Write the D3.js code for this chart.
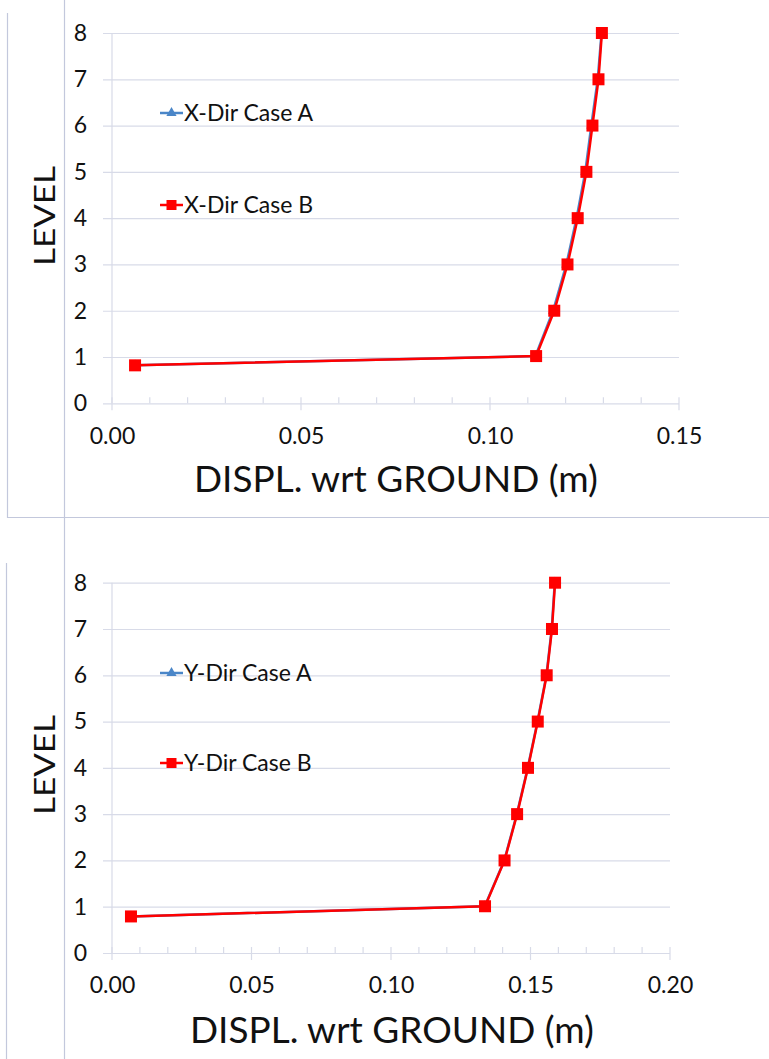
<!DOCTYPE html>
<html>
<head>
<meta charset="utf-8">
<script src="https://cdn.jsdelivr.net/npm/d3@7"></script>
<style>
	body { margin: 0; background: #fff; }
	text { font-family: Lato, "Open Sans", sans-serif; fill: #111; }
</style>
</head>
<body>
<script>
// level axis and displacement ticks
var levelTicks = [0, 1, 2, 3, 4, 5, 6, 7, 8];
var xDirTicks = [0, 0.05, 0.10, 0.15];
var yDirTicks = [0, 0.05, 0.10, 0.15, 0.20];

// X direction
var xDirLevels = [0.82, 1.02, 2, 3, 4, 5, 6, 7, 8];
var xDirCaseA = [0.0061, 0.1120, 0.1167, 0.1202, 0.1229, 0.1252, 0.1268, 0.1285, 0.1295];
var xDirCaseB = [0.0061, 0.1122, 0.1170, 0.1205, 0.1232, 0.1255, 0.1271, 0.1287, 0.1296];

// Y direction
var yDirLevels = [0.79, 1.01, 2, 3, 4, 5, 6, 7, 8];
var yDirCaseA = [0.0068, 0.1336, 0.1406, 0.1451, 0.1490, 0.1525, 0.1557, 0.1576, 0.1587];
var yDirCaseB = [0.0068, 0.1337, 0.1407, 0.1452, 0.1491, 0.1526, 0.1558, 0.1577, 0.1588];

var seriesNames = ["Case A", "Case B"];

var colors = {blue: "#4a86c8", red: "#ff0000", grid: "#d8dbe8", frame: "#c3c8dc"};

var svg = d3.select("body").append("svg")
	.attr("width", 769)
	.attr("height", 1059);

// scanned page frame lines
var frame = svg.append("g")
	.attr("fill", "none")
	.attr("stroke", colors.frame)
	.attr("stroke-width", 1.2);
frame.append("path").attr("d", "M7.5,13V517.5H769");
frame.append("path").attr("d", "M64.5,0V1059");
frame.append("path").attr("d", "M6.5,563V1059");

var drawProfile = function(p){
	var x = d3.scaleLinear().domain([0, p.xMax]).range([112, p.right]);
	var y = d3.scaleLinear().domain([0, 8]).range(p.yRange);
	var g = svg.append("g");

	// horizontal gridlines + level labels
	var yAxis = g.append("g")
		.attr("transform", "translate(103,0)")
		.call(d3.axisLeft(y).tickValues(levelTicks).tickSize(-(p.right - 103)).tickPadding(16));
	yAxis.select(".domain").remove();
	yAxis.selectAll("line").attr("stroke", colors.grid).attr("stroke-width", 1.2);
	yAxis.selectAll("text").attr("font-size", 23).attr("fill", "#111").style("font-family", "Lato, sans-serif");

	g.append("line")
		.attr("x1", x(0)).attr("x2", x(0))
		.attr("y1", y(0)).attr("y2", y(8))
		.attr("stroke", colors.grid).attr("stroke-width", 1.2);

	// x axis with minor ticks
	var xAxis = g.append("g")
		.attr("transform", "translate(0," + y(0) + ")")
		.call(d3.axisBottom(x).tickValues(p.ticks).tickSize(0).tickPadding(24).tickFormat(d3.format(".2f")));
	xAxis.select(".domain").remove();
	xAxis.selectAll("text").attr("font-size", 23).attr("fill", "#111").style("font-family", "Lato, sans-serif");

	g.append("g").selectAll("line")
		.data(x.ticks(p.xMax / 0.01))
		.enter()
		.append("line")
		.attr("x1", function(d){return x(d)})
		.attr("x2", function(d){return x(d)})
		.attr("y1", y(0) - 6)
		.attr("y2", function(d){return p.ticks.some(function(t){return Math.abs(t - d) < 1e-9}) ? y(0) + 7 : y(0)})
		.attr("stroke", colors.grid)
		.attr("stroke-width", 1.2);

	// series
	var line = d3.line()
		.x(function(d){return x(d[0])})
		.y(function(d){return y(d[1])});

	var ptsA = d3.zip(p.caseA, p.levels);
	var ptsB = d3.zip(p.caseB, p.levels);

	g.append("path")
		.datum(ptsA)
		.attr("d", line)
		.attr("fill", "none")
		.attr("stroke", colors.blue)
		.attr("stroke-width", 2.5);
	g.append("g").selectAll("path")
		.data(ptsA)
		.enter()
		.append("path")
		.attr("d", d3.symbol().type(d3.symbolTriangle).size(45))
		.attr("transform", function(d){return "translate(" + x(d[0]) + "," + y(d[1]) + ")"})
		.attr("fill", colors.blue);

	g.append("path")
		.datum(ptsB)
		.attr("d", line)
		.attr("fill", "none")
		.attr("stroke", colors.red)
		.attr("stroke-width", 2.5);
	g.append("g").selectAll("rect")
		.data(ptsB)
		.enter()
		.append("rect")
		.attr("x", function(d){return x(d[0]) - 6})
		.attr("y", function(d){return y(d[1]) - 6})
		.attr("width", 12)
		.attr("height", 12)
		.attr("fill", colors.red);

	// legend
	var legend = g.append("g").selectAll("g")
		.data(seriesNames)
		.enter()
		.append("g")
		.attr("transform", function(d, i){return "translate(160," + p.legendY[i] + ")"});
	legend.append("line")
		.attr("x1", 0).attr("x2", 23)
		.attr("stroke", function(d, i){return i == 0 ? colors.blue : colors.red})
		.attr("stroke-width", 2.5);
	legend.append("path")
		.attr("transform", "translate(11.5,0)")
		.attr("d", function(d, i){return d3.symbol().type(i == 0 ? d3.symbolTriangle : d3.symbolSquare).size(i == 0 ? 45 : 100)()})
		.attr("fill", function(d, i){return i == 0 ? colors.blue : colors.red});
	legend.append("text")
		.attr("x", 24)
		.attr("dy", "0.36em")
		.attr("font-size", 23)
		.text(function(d){return p.dir + " " + d});

	// titles
	g.append("text")
		.attr("transform", "translate(55," + p.levelTitleY + ") rotate(-90)")
		.attr("text-anchor", "middle")
		.attr("font-size", 29)
		.attr("textLength", 100)
		.attr("lengthAdjust", "spacingAndGlyphs")
		.text("LEVEL");

	g.append("text")
		.attr("x", p.titleX)
		.attr("y", p.titleY)
		.attr("text-anchor", "middle")
		.attr("font-size", 36)
		.attr("textLength", 404)
		.attr("lengthAdjust", "spacingAndGlyphs")
		.text("DISPL. wrt GROUND (m)");
};

drawProfile({
	xMax: 0.15, right: 679, yRange: [403.3, 33],
	ticks: xDirTicks, levels: xDirLevels, caseA: xDirCaseA, caseB: xDirCaseB,
	dir: "X-Dir", legendY: [113, 205],
	levelTitleY: 216, titleX: 396, titleY: 492
});

drawProfile({
	xMax: 0.20, right: 670, yRange: [953, 582.7],
	ticks: yDirTicks, levels: yDirLevels, caseA: yDirCaseA, caseB: yDirCaseB,
	dir: "Y-Dir", legendY: [673, 763],
	levelTitleY: 765, titleX: 392, titleY: 1043
});
</script>
</body>
</html>
